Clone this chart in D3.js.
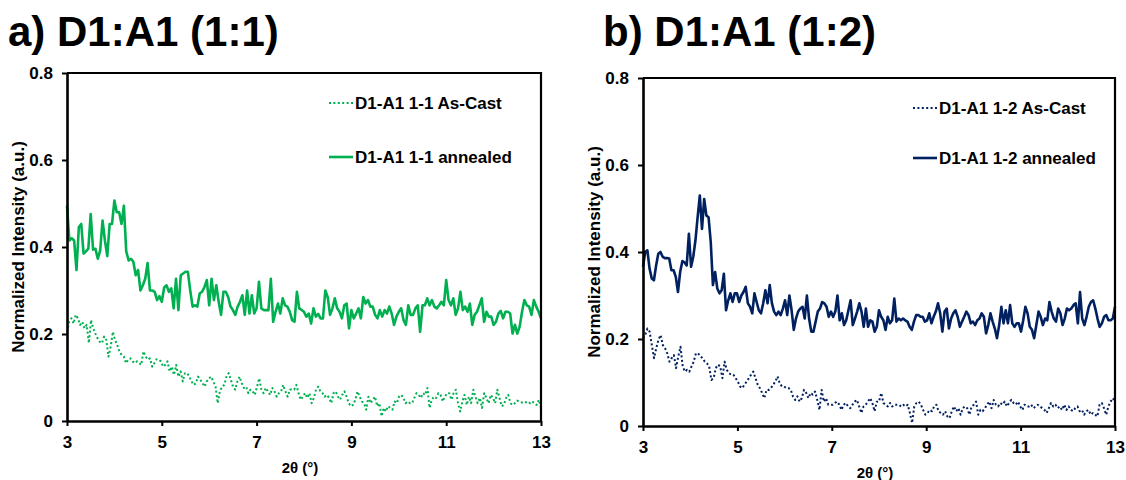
<!DOCTYPE html>
<html>
<head>
<meta charset="utf-8">
<script src="https://cdn.jsdelivr.net/npm/d3@7"></script>
<style>
  body { margin: 0; background: #fff; }
  text { font-family: "Liberation Sans", Arial, sans-serif; font-weight: bold; fill: #000; }
</style>
</head>
<body>
<svg id="chart" width="1126" height="480"></svg>
<script>
// 2θ scan range and tick marks
const xDomain = [3, 13];
const yDomain = [0, 0.8];
const xTicks = [3, 5, 7, 9, 11, 13];
const yTicks = [0, 0.2, 0.4, 0.6, 0.8];

// D1:A1 (1:1) — normalized intensity, evenly spaced over 2θ = 3…13°
const asCast11 = [
  0.205,0.228,0.236,0.224,0.244,0.236,0.221,0.228,0.213,0.221,0.179,0.232,0.213,0.201,0.19,0.182,0.179,0.194,0.186,0.148,
  0.171,0.205,0.186,0.175,0.16,0.152,0.148,0.133,0.141,0.144,0.137,0.133,0.137,0.133,0.129,0.16,0.148,0.141,0.144,0.125,
  0.133,0.142,0.141,0.137,0.125,0.129,0.137,0.114,0.125,0.106,0.129,0.102,0.114,0.091,0.11,0.11,0.102,0.091,0.083,0.087,
  0.102,0.095,0.087,0.079,0.091,0.098,0.102,0.091,0.079,0.041,0.068,0.079,0.083,0.102,0.11,0.095,0.079,0.072,0.091,0.102,
  0.087,0.076,0.079,0.064,0.072,0.068,0.06,0.079,0.098,0.072,0.064,0.076,0.068,0.06,0.076,0.068,0.056,0.064,0.068,0.083,
  0.068,0.056,0.072,0.073,0.072,0.083,0.064,0.049,0.056,
  0.064,0.053,0.064,0.041,0.053,0.072,0.079,0.068,0.064,0.056,0.06,0.053,0.041,0.064,0.068,0.056,0.049,0.06,0.068,0.056,
  0.041,0.034,0.037,0.049,0.068,0.056,0.045,0.041,0.026,0.056,0.041,0.049,0.056,0.034,0.041,0.011,0.03,0.022,0.034,0.03,
  0.026,0.045,0.041,0.056,0.06,0.053,0.041,0.045,0.041,0.041,0.053,0.064,0.06,0.053,0.064,0.06,0.076,0.03,0.049,0.056,
  0.053,0.064,0.06,0.045,0.056,0.064,0.064,0.049,0.064,0.072,0.041,0.022,0.045,0.06,0.037,0.056,0.041,0.072,0.056,0.041,
  0.053,0.03,0.064,0.053,0.041,0.06,0.053,0.041,0.072,0.053,0.034,0.037,0.053,0.06,0.041,0.037,0.041,0.047,0.045,0.043,
  0.041,0.043,0.045,0.041,0.045,0.041,0.037,0.049,0.03
];
const annealed11 = [
  0.495,0.415,0.42,0.415,0.347,0.446,0.453,0.385,0.39,0.396,0.476,0.394,0.396,0.373,0.392,0.461,0.415,0.379,0.453,0.453,
  0.507,0.48,0.48,0.453,0.495,0.39,0.369,0.373,0.366,0.335,0.347,0.30,0.312,0.327,0.363,0.30,0.30,0.297,0.278,0.287,
  0.274,0.307,0.312,0.297,0.305,0.259,0.327,0.255,0.335,0.339,0.343,0.343,0.30,0.263,0.266,0.263,0.293,0.297,0.308,0.324,
  0.266,0.327,0.278,0.312,0.274,0.244,0.297,0.297,0.285,0.263,0.255,0.244,0.263,0.274,0.289,0.244,0.30,0.247,0.289,0.247,
  0.259,0.32,0.259,0.255,0.255,0.255,0.327,0.228,0.251,0.27,0.247,0.282,0.266,0.263,0.251,0.232,0.228,0.297,
  0.259,0.255,0.251,0.24,0.247,0.224,0.259,0.24,0.246,0.236,0.236,0.30,0.285,0.244,0.259,0.282,0.259,0.251,0.236,0.266,
  0.27,0.213,0.255,0.236,0.247,0.259,0.236,0.285,0.27,0.278,0.263,0.263,0.244,0.236,0.255,0.24,0.255,0.247,0.263,0.247,
  0.221,0.24,0.251,0.259,0.232,0.221,0.266,0.244,0.244,0.259,0.266,0.205,0.266,0.266,0.282,0.266,0.278,0.263,0.259,0.266,
  0.274,0.266,0.324,0.278,0.266,0.282,0.244,0.259,0.297,0.255,0.263,0.251,0.27,0.221,0.244,0.251,0.266,0.282,0.228,0.251,
  0.24,0.24,0.221,0.228,0.247,0.253,0.236,0.251,0.251,0.247,0.201,0.221,0.201,0.217,0.251,0.278,0.266,0.263,0.244,0.278,
  0.263,0.251,0.236
];

// D1:A1 (1:2)
const asCast12 = [
  0.202,0.209,0.224,0.217,0.186,0.156,0.179,0.198,0.209,0.186,0.179,0.167,0.148,0.156,0.163,0.133,0.16,0.182,0.137,0.125,
  0.129,0.125,0.137,0.148,0.167,0.167,0.16,0.156,0.148,0.144,0.137,0.106,0.11,0.133,0.141,0.137,0.11,0.148,0.129,0.121,
  0.118,0.118,0.11,0.102,0.091,0.087,0.095,0.102,0.11,0.118,0.125,0.11,0.095,0.087,0.076,0.064,0.083,0.083,0.087,0.095,
  0.102,0.114,0.098,0.091,0.091,0.087,0.087,0.083,0.068,0.06,0.068,0.056,0.064,0.083,0.076,0.064,0.076,0.072,0.079,0.06,
  0.037,0.083,0.056,0.064,0.049,0.049,0.049,0.053,0.056,0.049,0.037,0.049,0.053,0.045,0.041,0.049,0.056,0.06,0.045,0.03,
  0.045,0.049,0.056,0.064,0.053,0.034,0.056,
  0.056,0.076,0.053,0.049,0.045,0.053,0.045,0.049,0.049,0.049,0.045,0.049,0.045,0.049,0.03,0.007,0.045,0.053,0.056,0.049,
  0.037,0.026,0.03,0.037,0.034,0.045,0.049,0.034,0.03,0.026,0.034,0.022,0.018,0.034,0.045,0.034,0.041,0.026,0.041,0.045,
  0.041,0.026,0.045,0.049,0.056,0.026,0.037,0.034,0.041,0.049,0.056,0.041,0.06,0.049,0.045,0.053,0.049,0.056,0.045,0.053,
  0.06,0.053,0.049,0.056,0.045,0.037,0.049,0.045,0.045,0.049,0.041,0.045,0.049,0.045,0.041,0.037,0.03,0.041,0.053,0.045,
  0.049,0.041,0.045,0.037,0.049,0.037,0.045,0.037,0.034,0.041,0.045,0.034,0.037,0.026,0.034,0.037,0.026,0.03,0.026,0.022,
  0.049,0.053,0.041,0.026,0.045,0.056,0.064,0.056
];
const annealed12 = [
  0.366,0.40,0.404,0.362,0.339,0.335,0.369,0.396,0.40,0.389,0.386,0.386,0.385,0.358,0.358,0.343,0.308,0.354,0.379,0.376,
  0.369,0.442,0.366,0.389,0.427,0.48,0.53,0.453,0.522,0.484,0.48,0.423,0.324,0.354,0.316,0.305,0.312,0.35,0.266,0.289,
  0.305,0.285,0.305,0.305,0.285,0.30,0.308,0.32,0.282,0.274,0.259,0.305,0.285,0.266,0.259,0.282,0.312,0.282,0.324,0.282,
  0.263,0.255,0.263,0.255,0.27,0.289,0.255,0.30,0.266,0.221,0.247,0.263,0.27,0.274,0.247,0.30,0.247,0.217,0.217,0.24,
  0.263,0.27,0.285,0.282,0.274,0.251,0.263,0.251,0.263,0.30,0.243,0.259,0.232,0.243,0.266,0.289,0.232,0.247,0.263,0.282,
  0.263,0.228,0.27,0.228,0.243,0.24,0.217,0.228,0.266,
  0.251,0.243,0.221,0.251,0.236,0.243,0.293,0.24,0.247,0.243,0.247,0.243,0.24,0.228,0.221,0.24,0.255,0.255,0.251,0.251,
  0.24,0.243,0.259,0.236,0.251,0.263,0.282,0.259,0.217,0.263,0.27,0.224,0.247,0.259,0.266,0.251,0.228,0.24,0.251,0.263,
  0.255,0.236,0.24,0.232,0.243,0.247,0.259,0.251,0.213,0.232,0.259,0.24,0.224,0.202,0.232,0.274,0.236,0.266,0.236,0.278,
  0.236,0.228,0.236,0.236,0.217,0.243,0.274,0.259,0.228,0.221,0.202,0.232,0.263,0.251,0.232,0.247,0.243,0.285,0.263,0.247,
  0.24,0.27,0.259,0.232,0.247,0.27,0.266,0.27,0.278,0.282,0.236,0.308,0.247,0.232,0.251,0.274,0.285,0.289,0.27,0.247,
  0.228,0.236,0.251,0.255,0.243,0.243,0.247,0.274
];

const panels = [
  {
    title: "a) D1:A1 (1:1)", color: "#00B050",
    series: [
      { name: "D1-A1 1-1 As-Cast", values: asCast11, dotted: true },
      { name: "D1-A1 1-1 annealed", values: annealed11, dotted: false }
    ],
    box: { left: 67, right: 541, top: 73, bottom: 421 },
    titleX: 8, legendX: 329, legendY: [103, 157]
  },
  {
    title: "b) D1:A1 (1:2)", color: "#002060",
    series: [
      { name: "D1-A1 1-2 As-Cast", values: asCast12, dotted: true },
      { name: "D1-A1 1-2 annealed", values: annealed12, dotted: false }
    ],
    box: { left: 643, right: 1115, top: 78, bottom: 426 },
    titleX: 603, legendX: 913, legendY: [108, 158]
  }
];

const svg = d3.select("#chart");

panels.forEach(p => {
  const b = p.box;
  const x = d3.scaleLinear().domain(xDomain).range([b.left, b.right]);
  const y = d3.scaleLinear().domain(yDomain).range([b.bottom, b.top]);
  const g = svg.append("g");

  // panel title
  g.append("text")
    .attr("x", p.titleX).attr("y", 46)
    .style("font-size", "42px")
    .text(p.title);

  // data traces
  const line = d3.line()
    .x(d => x(d[0]))
    .y(d => y(d[1]));
  p.series.forEach(s => {
    const n = s.values.length;
    const pts = s.values.map((v, i) => [xDomain[0] + i * (xDomain[1] - xDomain[0]) / (n - 1), v]);
    g.append("path")
      .datum(pts)
      .attr("d", line)
      .attr("fill", "none")
      .attr("stroke", p.color)
      .attr("stroke-width", s.dotted ? 2 : 2.6)
      .attr("stroke-linejoin", "round")
      .attr("stroke-dasharray", s.dotted ? "2,2.4" : null);
  });

  // frame: top and right borders
  g.append("path")
    .attr("d", `M${b.left},${b.top}H${b.right}V${b.bottom}`)
    .attr("fill", "none").attr("stroke", "#000").attr("stroke-width", 2.2);

  // axes
  const yAxis = g.append("g")
    .attr("transform", `translate(${b.left},0)`)
    .call(d3.axisLeft(y).tickValues(yTicks).tickSize(5).tickSizeOuter(0).tickPadding(9)
      .tickFormat(d => d === 0 ? "0" : d3.format(".1f")(d)));
  const xAxis = g.append("g")
    .attr("transform", `translate(0,${b.bottom})`)
    .call(d3.axisBottom(x).tickValues(xTicks).tickSize(5).tickSizeOuter(0).tickPadding(10)
      .tickFormat(d3.format("d")));
  [yAxis, xAxis].forEach(a => {
    a.select(".domain").attr("stroke", "#000").attr("stroke-width", 2.6);
    a.selectAll(".tick line").attr("stroke", "#000").attr("stroke-width", 2);
    a.selectAll(".tick text")
      .style("font-size", "17px")
      .style("font-family", '"Liberation Sans", Arial, sans-serif')
      .style("font-weight", "bold")
      .attr("fill", "#000");
  });

  // axis titles
  g.append("text")
    .attr("transform", `translate(${b.left - 49},${(b.top + b.bottom) / 2}) rotate(-90)`)
    .attr("text-anchor", "middle")
    .attr("dy", "0.35em")
    .style("font-size", "17px")
    .text("Normalized Intensity (a.u.)");
  g.append("text")
    .attr("x", (b.left + b.right) / 2 - 4)
    .attr("y", b.bottom + 52)
    .attr("text-anchor", "middle")
    .style("font-size", "15px")
    .text("2θ (°)");

  // legend
  p.series.forEach((s, i) => {
    const ly = p.legendY[i];
    g.append("line")
      .attr("x1", p.legendX).attr("x2", p.legendX + 24)
      .attr("y1", ly).attr("y2", ly)
      .attr("stroke", p.color)
      .attr("stroke-width", s.dotted ? 2 : 2.6)
      .attr("stroke-dasharray", s.dotted ? "2,2.4" : null);
    g.append("text")
      .attr("x", p.legendX + 26).attr("y", ly)
      .attr("dy", "0.36em")
      .style("font-size", "17px")
      .text(s.name);
  });
});
</script>
</body>
</html>
